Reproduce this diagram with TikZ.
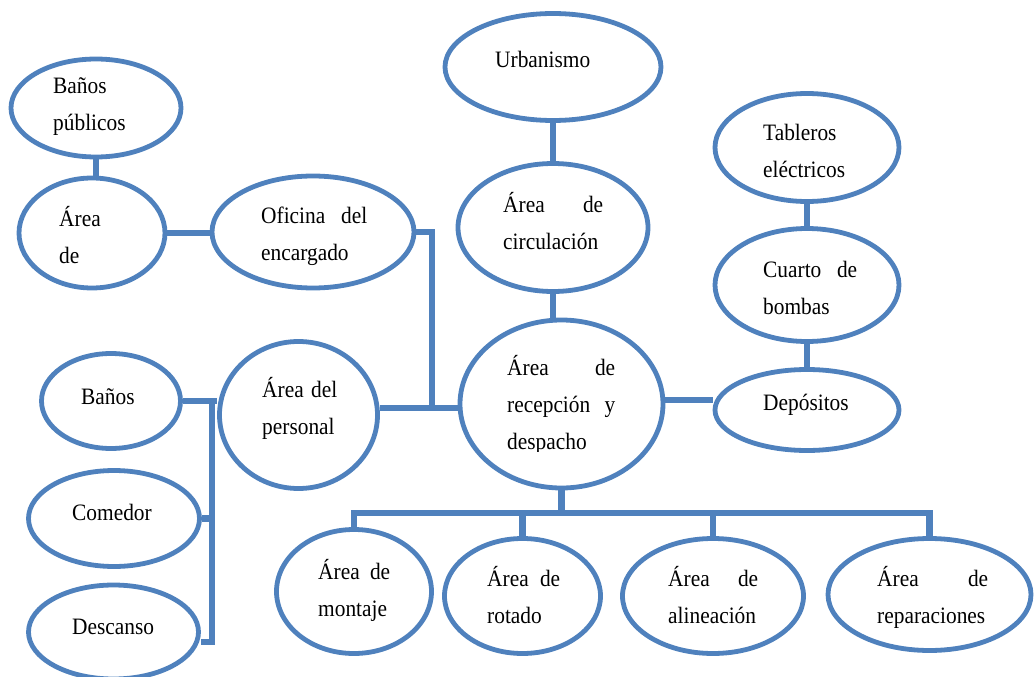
\documentclass[tikz,border=0pt]{standalone}
\usepackage{fontspec}
\setmainfont[FakeStretch=0.91]{Liberation Serif}
\usetikzlibrary{shapes.geometric}
\pgfdeclarelayer{links}
\pgfsetlayers{links,main}
\definecolor{linkblue}{RGB}{79,129,189}
% one justified line of a given width
\newcommand{\jl}[3]{\hbox to #1pt{#2\hfill #3}}
% stacked lines whose reference point is the first baseline
\newcommand{\twol}[2]{\vtop{\baselineskip=37pt\hbox{#1}\hbox{#2}}}
\newcommand{\threel}[3]{\vtop{\baselineskip=37pt\hbox{#1}\hbox{#2}\hbox{#3}}}
\tikzset{
  area/.style={ellipse, draw=linkblue, line width=4.8pt, fill=white, inner sep=0pt},
  link/.style={draw=linkblue, line width=6.5pt, line join=miter, line cap=butt},
  lbl/.style={anchor=base west, inner sep=0pt, font=\fontsize{23.5}{37}\selectfont}
}
\begin{document}
\begin{tikzpicture}[x=1pt, y=-1pt]
\useasboundingbox (0,0) rectangle (1034,677);
\clip (0,0) rectangle (1034,677);

% areas
\node[area, minimum width=170pt, minimum height=98pt]  (banospub) at (96,108) {};
\node[area, minimum width=146pt, minimum height=110pt] (aread)    at (92,233) {};
\node[area, minimum width=202pt, minimum height=112pt] (oficina)  at (313,232) {};
\node[area, minimum width=158pt, minimum height=147pt] (personal) at (298.5,415) {};
\node[area, minimum width=216pt, minimum height=107pt] (urban)    at (553,67) {};
\node[area, minimum width=190pt, minimum height=128pt] (circ)     at (553,227.5) {};
\node[area, minimum width=203pt, minimum height=168pt] (recep)    at (561.5,404) {};
\node[area, minimum width=184pt, minimum height=108pt] (tableros) at (807,147.5) {};
\node[area, minimum width=184pt, minimum height=113pt] (cuarto)   at (807,285) {};
\node[area, minimum width=184pt, minimum height=81pt]  (depos)    at (807,410) {};
\node[area, minimum width=155pt, minimum height=124pt] (montaje)  at (354,591.5) {};
\node[area, minimum width=156pt, minimum height=115pt] (rotado)   at (522.5,596) {};
\node[area, minimum width=181pt, minimum height=115pt] (alin)     at (713,596) {};
\node[area, minimum width=203pt, minimum height=112pt] (repar)    at (929.5,594.5) {};
\node[area, minimum width=139pt, minimum height=95pt]  (banos)    at (111,401) {};
\node[area, minimum width=171pt, minimum height=96pt]  (comedor)  at (114,518.5) {};
\node[area, minimum width=170pt, minimum height=94pt]  (descanso) at (113.5,632) {};

% junction points
\coordinate (hub) at (432,408);
\coordinate (depjoin) at (690,400);
\coordinate (bus) at (561.5,513);
\coordinate (lbtop) at (212,400);
\coordinate (lbbot) at (212,642);

% connectors
\begin{pgfonlayer}{links}
\draw[link] (banospub.south) -- (banospub.south |- aread.north);
\draw[link] (aread.east) -- (oficina.west |- aread.east);
\draw[link] (oficina.east) -| (hub);
\draw[link] (personal.east |- hub) -- (recep.west |- hub);
\draw[link] (urban.south) -- (circ.north);
\draw[link] (circ.south) -- (circ.south |- recep.north);
\draw[link] (recep.east |- depjoin) -- (depos.west |- depjoin);
\draw[link] (tableros.south) -- (cuarto.north);
\draw[link] (cuarto.south) -- (depos.north);
\draw[link] (recep.south) -- (bus);
\draw[link] (montaje.north) -- (montaje.north |- bus) -- (repar.north |- bus) -- (repar.north);
\draw[link] (rotado.north) -- (rotado.north |- bus);
\draw[link] (alin.north) -- (alin.north |- bus);
\draw[link] (banos.east) -- (personal.west |- banos.east);
\draw[link] (lbtop) -- (lbbot) -- (descanso.east |- lbbot);
\draw[link] (comedor.east) -- (comedor.east -| lbtop);
\end{pgfonlayer}

% labels
\node[lbl] (tbanospub) at (53,93)   {\twol{Baños}{públicos}};
\node[lbl] (taread)    at (59,226)  {\twol{Área}{de}};
\node[lbl] (toficina)  at (261,223) {\twol{\jl{106}{Oficina}{del}}{encargado}};
\node[lbl] (turban)    at (495,68)  {Urbanismo};
\node[lbl] (tcirc)     at (503,212) {\twol{\jl{100}{Área}{de}}{circulación}};
\begin{scope}
  % the last line of this box is cut at the bottom of its text frame
  \clip (480,330) rectangle (650,451);
  \node[lbl] (trecep) at (507,375) {\threel{\jl{108}{Área}{de}}{\jl{108}{recepción}{y}}{despacho}};
\end{scope}
\node[lbl] (ttableros) at (763,140) {\twol{Tableros}{eléctricos}};
\node[lbl] (tcuarto)   at (763,277) {\twol{\jl{94}{Cuarto}{de}}{bombas}};
\node[lbl] (tdepos)    at (763,410) {Depósitos};
\node[lbl] (tpersonal) at (262,397) {\twol{\jl{75}{Área}{del}}{personal}};
\node[lbl] (tbanos)    at (81,404)  {Baños};
\node[lbl] (tcomedor)  at (72,520)  {Comedor};
\node[lbl] (tdescanso) at (72,634)  {Descanso};
\node[lbl] (tmontaje)  at (318,579) {\twol{\jl{72}{Área}{de}}{montaje}};
\node[lbl] (trotado)   at (487,586) {\twol{\jl{73}{Área}{de}}{rotado}};
\node[lbl] (talin)     at (668,586) {\twol{\jl{90}{Área}{de}}{alineación}};
\node[lbl] (trepar)    at (877,586) {\twol{\jl{111}{Área}{de}}{reparaciones}};
\end{tikzpicture}
\end{document}
